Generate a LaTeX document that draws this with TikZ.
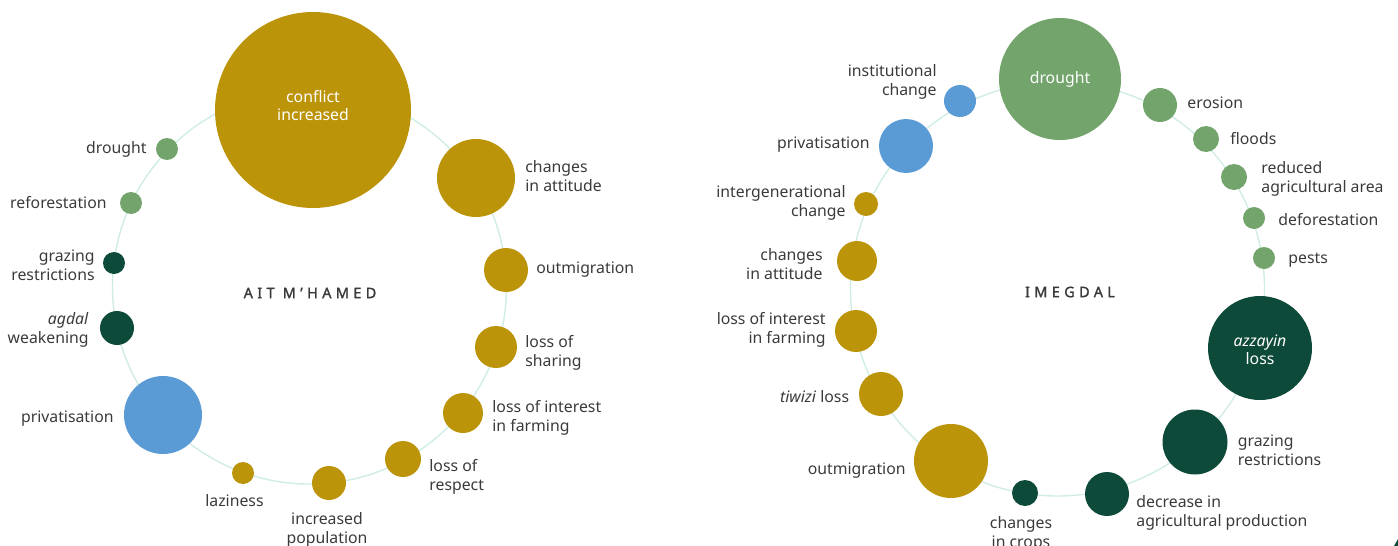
\documentclass[tikz,border=0pt]{standalone}
\usepackage{fontspec}
\setmainfont{Noto Sans}
\newfontfamily\headfont[LetterSpace=30,FakeBold=1.5]{Noto Sans}
\usetikzlibrary{positioning}

\definecolor{gold}{HTML}{BC940A}
\definecolor{leaf}{HTML}{72A46C}
\definecolor{pine}{HTML}{0E4A3A}
\definecolor{sky}{HTML}{5B9BD5}
\definecolor{ringc}{HTML}{CFEDE4}
\definecolor{ink}{HTML}{3A3A3A}

\begin{document}
\begin{tikzpicture}[x=1pt, y=-1pt,
    ring/.style={draw=ringc, line width=1.4pt},
    bub/.style={circle, inner sep=0pt, minimum size=2*#1},
    lbl/.style={font=\fontsize{15.8}{19}\selectfont, text=ink, inner sep=0pt, yshift=-2pt},
    inlbl/.style={font=\fontsize{15.8}{18}\selectfont, text=white, inner sep=0pt, align=center},
    title/.style={font=\headfont\fontsize{14.5}{16}\selectfont, text=ink}]
  \useasboundingbox (0,0) rectangle (1398,546);

  % Ait M'Hamed
  \draw[ring] (309.5,287) circle[radius=197];
  \node[title] (a-title) at (310,293) {AIT M’HAMED};
  \foreach \n/\x/\y/\r/\c in {a-conflict/313/110/98/gold, a-attitude/476/178/39/gold,
      a-outmig/506/270/22/gold, a-sharing/496/347/21/gold, a-interest/463/413/20/gold,
      a-respect/403/459/18/gold, a-pop/329/483/17/gold, a-lazy/243/473/11/gold,
      a-priv/163/415/39/sky, a-agdal/117/328/17/pine, a-grazing/114/263/11/pine,
      a-refor/131/203/11/leaf, a-drought/167/149/11/leaf}
    \node[bub=\r, fill=\c] (\n) at (\x,\y) {};

  \node[inlbl, yshift=4pt] (a-conflict-t) at (a-conflict) {conflict\\increased};
  \node[lbl, left=9pt of a-drought, yshift=2pt] (a-drought-t) {drought};
  \node[lbl, left=13pt of a-refor, yshift=2pt] (a-refor-t) {reforestation};
  \node[lbl, align=right, left=8pt of a-grazing] (a-grazing-t) {grazing\\restrictions};
  \node[lbl, align=right, left=11pt of a-agdal] (a-agdal-t) {\textit{agdal}\\weakening};
  \node[lbl, left=10pt of a-priv, yshift=-2pt] (a-priv-t) {privatisation};
  \node[lbl, below=8pt of a-lazy, xshift=-8.5pt] (a-lazy-t) {laziness};
  \node[lbl, align=center, below=10pt of a-pop, xshift=-2pt] (a-pop-t) {increased\\population};
  \node[lbl, align=left, right=8pt of a-respect, yshift=-15.5pt] (a-respect-t) {loss of\\respect};
  \node[lbl, align=left, right=9pt of a-interest, yshift=-2.5pt] (a-interest-t) {loss of interest\\in farming};
  \node[lbl, align=left, right=8pt of a-sharing, yshift=-4pt] (a-sharing-t) {loss of\\sharing};
  \node[lbl, right=8pt of a-outmig, yshift=2pt] (a-outmig-t) {outmigration};
  \node[lbl, align=left, right=10pt of a-attitude, yshift=3.5pt] (a-attitude-t) {changes\\in attitude};

  % Imegdal
  \draw[ring] (1057.5,289) circle[radius=207];
  \node[title] (i-title) at (1070,292) {IMEGDAL};
  \foreach \n/\x/\y/\r/\c in {i-drought/1060/79/61/leaf, i-erosion/1160/105/17/leaf,
      i-floods/1206/139/13/leaf, i-area/1234/177/13/leaf, i-defor/1254/218/11/leaf,
      i-pests/1264/258/11/leaf, i-azzayin/1260/348/52/pine, i-grazing/1195/442/32.5/pine,
      i-decrease/1107/494/22/pine, i-crops/1025/493/13/pine, i-outmig/951/461/37/gold,
      i-tiwizi/881/394/22/gold, i-interest/856/331/21/gold, i-attitude/857/261/20/gold,
      i-intergen/866/204/12/gold, i-priv/906/146/27/sky, i-inst/960/101/16/sky}
    \node[bub=\r, fill=\c] (\n) at (\x,\y) {};

  \node[inlbl] (i-drought-t) at (i-drought) {drought};
  \node[inlbl, yshift=-2pt] (i-azzayin-t) at (i-azzayin) {\textit{azzayin}\\loss};
  \node[lbl, right=10pt of i-erosion, yshift=4pt] (i-erosion-t) {erosion};
  \node[lbl, right=11pt of i-floods, yshift=2pt] (i-floods-t) {floods};
  \node[lbl, align=left, right=14pt of i-area] (i-area-t) {reduced\\agricultural area};
  \node[lbl, right=13pt of i-defor] (i-defor-t) {deforestation};
  \node[lbl, right=13pt of i-pests] (i-pests-t) {pests};
  \node[lbl, align=left, right=10pt of i-grazing, yshift=-6pt] (i-grazing-t) {grazing\\restrictions};
  \node[lbl, align=left, right=7pt of i-decrease, yshift=-17pt] (i-decrease-t) {decrease in\\agricultural production};
  \node[lbl, align=center, below=8pt of i-crops, xshift=-4pt] (i-crops-t) {changes\\in crops};
  \node[lbl, left=8pt of i-outmig, yshift=-7.5pt] (i-outmig-t) {outmigration};
  \node[lbl, left=9.5pt of i-tiwizi, yshift=-1pt] (i-tiwizi-t) {\textit{tiwizi} loss};
  \node[lbl, align=right, left=9pt of i-interest, yshift=3pt] (i-interest-t) {loss of interest\\in farming};
  \node[lbl, align=right, left=14pt of i-attitude, yshift=-1.5pt] (i-attitude-t) {changes\\in attitude};
  \node[lbl, align=right, left=8pt of i-intergen, yshift=3pt] (i-intergen-t) {intergenerational\\change};
  \node[lbl, left=9pt of i-priv, yshift=3pt] (i-priv-t) {privatisation};
  \node[lbl, align=right, left=7pt of i-inst, yshift=21pt] (i-inst-t) {institutional\\change};

  % corner of the next panel
  \fill[pine] (1398,539) -- (1398,546) -- (1394,546) -- cycle;
\end{tikzpicture}
\end{document}
